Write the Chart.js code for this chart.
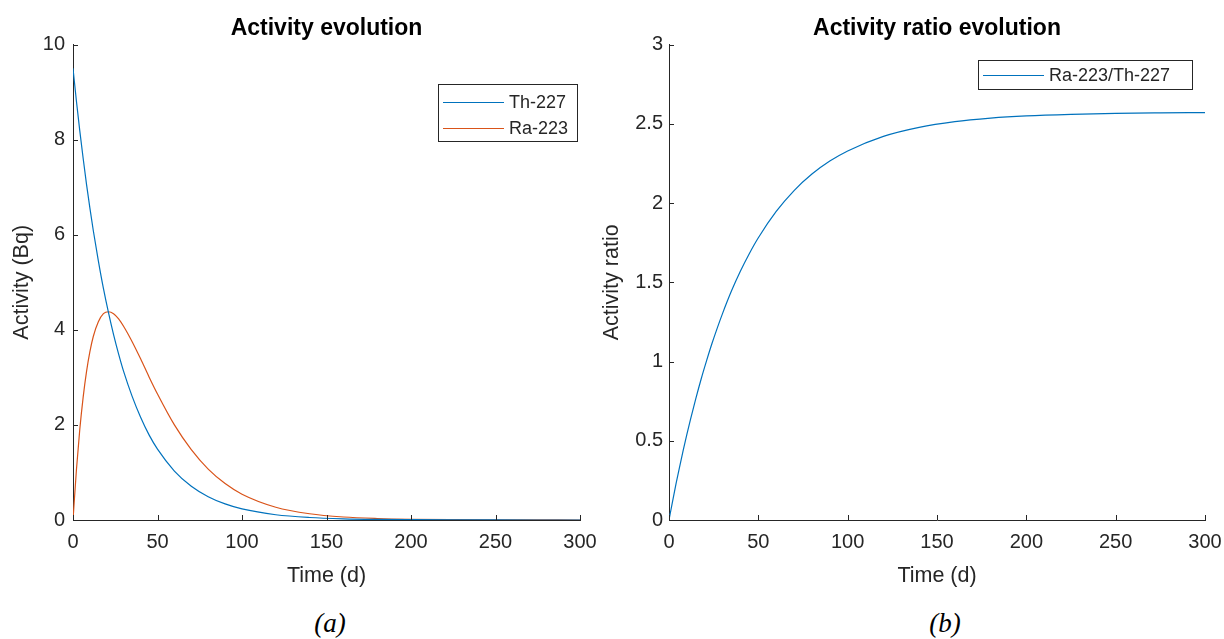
<!DOCTYPE html>
<html>
<head>
<meta charset="utf-8">
<title>Activity evolution</title>
<script src="https://cdn.jsdelivr.net/npm/chart.js@4.4.1/dist/chart.umd.min.js"></script>
<style>
    html, body { margin: 0; padding: 0; background: #fff; }
    body { width: 1224px; height: 639px; position: relative; overflow: hidden; }
    .panel { position: absolute; top: 0; }
    .caption {
        position: absolute; top: 608px; width: 80px; text-align: center;
        font-family: "Liberation Serif", "Times New Roman", serif;
        font-style: italic; font-size: 27px; color: #000;
    }
</style>
</head>
<body>
<div class="panel" style="left:0px"><canvas id="chartA" width="653" height="600"></canvas></div>
<div class="panel" style="left:595px"><canvas id="chartB" width="684" height="600"></canvas></div>
<div class="caption" style="left:290px">(a)</div>
<div class="caption" style="left:905px">(b)</div>

<script>
// Values (time in days)
const timeDays = [0, 2, 4, 6, 8, 10, 12, 15, 18, 21, 24, 27, 30, 35, 40, 45, 50,
    60, 70, 80, 90, 100, 120, 140, 160, 180, 200, 225, 250, 275, 300];
const th227 = [9.5, 8.82, 8.19, 7.61, 7.06, 6.56, 6.09, 5.45, 4.87, 4.36, 3.90, 3.49, 3.12, 2.60, 2.16, 1.79, 1.49,
    1.03, 0.71, 0.49, 0.338, 0.233, 0.111, 0.053, 0.025, 0.012, 0.006, 0.002, 0.001, 0.0004, 0.0001];
const ra223 = [0, 1.04, 1.90, 2.58, 3.12, 3.54, 3.86, 4.17, 4.34, 4.38, 4.34, 4.23, 4.07, 3.75, 3.39, 3.01, 2.65,
    2.00, 1.48, 1.07, 0.766, 0.543, 0.269, 0.131, 0.063, 0.031, 0.015, 0.006, 0.002, 0.001, 0.0004];
const ratioRaTh = [0, 0.118, 0.232, 0.339, 0.442, 0.540, 0.634, 0.766, 0.890, 1.004, 1.112, 1.211, 1.304, 1.446, 1.571, 1.682, 1.781,
    1.947, 2.079, 2.183, 2.265, 2.329, 2.421, 2.478, 2.514, 2.536, 2.550, 2.560, 2.566, 2.569, 2.571];

const xTicks = [0, 50, 100, 150, 200, 250, 300];
const yTicksA = [0, 2, 4, 6, 8, 10];
const yTicksB = [0, 0.5, 1, 1.5, 2, 2.5, 3];

const BLUE = '#0072BD';
const ORANGE = '#D95319';
const AXIS_COLOR = '#262626';
const FONT = '"Liberation Sans", Arial, Helvetica, sans-serif';

function toPoints(xs, ys) {
    return xs.map((x, i) => ({ x: x, y: ys[i] }));
}

// MATLAB-style tick marks pointing into the axes
const innerTicks = {
    id: 'innerTicks',
    afterDatasetsDraw(chart) {
        const ctx = chart.ctx;
        const { left, bottom } = chart.chartArea;
        const xs = chart.scales.x, ys = chart.scales.y;
        ctx.save();
        ctx.strokeStyle = AXIS_COLOR;
        ctx.lineWidth = 1;
        ctx.beginPath();
        xs.ticks.forEach((t, i) => {
            const px = Math.round(xs.getPixelForTick(i)) + 0.5;
            ctx.moveTo(px, bottom);
            ctx.lineTo(px, bottom - 5);
        });
        ys.ticks.forEach((t, i) => {
            const py = Math.round(ys.getPixelForTick(i)) + 0.5;
            ctx.moveTo(left, py);
            ctx.lineTo(left + 5, py);
        });
        ctx.stroke();
        ctx.restore();
    }
};

// Boxed legend drawn inside the axes
const boxLegend = {
    id: 'boxLegend',
    afterDraw(chart, args, opts) {
        const ctx = chart.ctx;
        ctx.save();
        ctx.fillStyle = '#fff';
        ctx.fillRect(opts.x, opts.y, opts.w, opts.h);
        ctx.strokeStyle = AXIS_COLOR;
        ctx.lineWidth = 1;
        ctx.strokeRect(opts.x + 0.5, opts.y + 0.5, opts.w, opts.h);
        ctx.font = '18px ' + FONT;
        ctx.textBaseline = 'middle';
        ctx.textAlign = 'left';
        chart.data.datasets.forEach((ds, i) => {
            const cy = Math.round(opts.y + opts.firstRow + i * opts.rowH) + 0.5;
            ctx.strokeStyle = ds.borderColor;
            ctx.lineWidth = 1.2;
            ctx.beginPath();
            ctx.moveTo(opts.x + 5, cy);
            ctx.lineTo(opts.x + 66, cy);
            ctx.stroke();
            ctx.fillStyle = AXIS_COLOR;
            ctx.fillText(ds.label, opts.x + 71, cy + 1);
        });
        ctx.restore();
    }
};

function makeChart(id, cfg) {
    return new Chart(document.getElementById(id), {
        type: 'line',
        data: { datasets: cfg.datasets },
        plugins: [innerTicks, boxLegend],
        options: {
            responsive: false,
            animation: false,
            layout: { padding: { left: 0, right: cfg.rightPad, top: 0, bottom: 0 } },
            elements: {
                point: { radius: 0 },
                line: { borderWidth: 1.2, tension: 0.4, cubicInterpolationMode: 'monotone' }
            },
            plugins: {
                legend: { display: false },
                tooltip: { enabled: false },
                title: {
                    display: true,
                    fullSize: false,
                    text: cfg.title,
                    color: '#000',
                    font: { family: FONT, size: 23, weight: 'bold' },
                    padding: { top: 15, bottom: 2 }
                },
                boxLegend: cfg.legend
            },
            scales: {
                x: {
                    type: 'linear',
                    min: 0, max: 300,
                    afterBuildTicks: s => { s.ticks = xTicks.map(v => ({ value: v })); },
                    afterFit: s => { s.height = 80; s.paddingLeft = 0; s.paddingRight = 0; },
                    grid: { display: false, drawTicks: false },
                    border: { display: true, color: AXIS_COLOR, width: 1 },
                    ticks: {
                        color: AXIS_COLOR, padding: 10, maxRotation: 0,
                        font: { family: FONT, size: 20 },
                        callback: v => String(v)
                    },
                    title: {
                        display: true, text: 'Time (d)', color: AXIS_COLOR,
                        font: { family: FONT, size: 21.5 },
                        padding: { top: 0, bottom: 11 }
                    }
                },
                y: {
                    type: 'linear',
                    min: cfg.yMin, max: cfg.yMax,
                    afterBuildTicks: s => { s.ticks = cfg.yTicks.map(v => ({ value: v })); },
                    afterFit: s => { s.width = cfg.yWidth; s.paddingTop = 0; s.paddingBottom = 0; },
                    grid: { display: false, drawTicks: false },
                    border: { display: true, color: AXIS_COLOR, width: 1 },
                    ticks: {
                        color: AXIS_COLOR, padding: cfg.yTickPad,
                        font: { family: FONT, size: 20 },
                        callback: v => String(v)
                    },
                    title: {
                        display: true, text: cfg.yTitle, color: AXIS_COLOR,
                        font: { family: FONT, size: 21.5 },
                        padding: { top: cfg.yTitlePad, bottom: 0 }
                    }
                }
            }
        }
    });
}

makeChart('chartA', {
    title: 'Activity evolution',
    yTitle: 'Activity (Bq)',
    yMin: 0, yMax: 10,
    yTicks: yTicksA,
    yWidth: 73, yTickPad: 8, yTitlePad: 9, rightPad: 73,
    legend: { x: 438, y: 84, w: 139, h: 57, firstRow: 18, rowH: 26 },
    datasets: [
        { label: 'Th-227', data: toPoints(timeDays, th227), borderColor: BLUE, backgroundColor: BLUE },
        { label: 'Ra-223', data: toPoints(timeDays, ra223), borderColor: ORANGE, backgroundColor: ORANGE }
    ]
});

makeChart('chartB', {
    title: 'Activity ratio evolution',
    yTitle: 'Activity ratio',
    yMin: 0, yMax: 3,
    yTicks: yTicksB,
    yWidth: 74, yTickPad: 6, yTitlePad: 4, rightPad: 74,
    legend: { x: 383, y: 60, w: 214, h: 29, firstRow: 14.5, rowH: 26 },
    datasets: [
        { label: 'Ra-223/Th-227', data: toPoints(timeDays, ratioRaTh), borderColor: BLUE, backgroundColor: BLUE }
    ]
});
</script>
</body>
</html>
